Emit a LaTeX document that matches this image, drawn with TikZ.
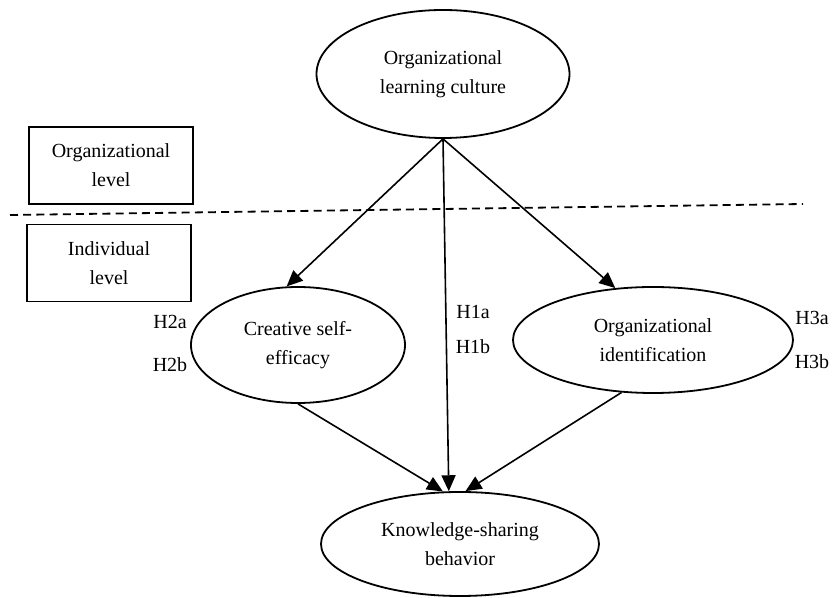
\documentclass[tikz,border=0pt]{standalone}
\usepackage{fontspec}
\setmainfont{Liberation Serif}
\usetikzlibrary{shapes.geometric,arrows.meta}
\begin{document}
\begin{tikzpicture}[x=0.5pt,y=-0.5pt,
  every node/.style={font=\fontsize{10}{14.5}\selectfont},
  oval/.style={draw,ellipse,line width=0.9pt,inner sep=0pt,align=center},
  lvlbox/.style={draw,rectangle,line width=0.9pt,inner sep=0pt,align=center,minimum width=82pt,minimum height=38.5pt},
  hyp/.style={inner sep=0pt},
  arr/.style={line width=0.8pt,-{Triangle[length=8pt,width=7pt]}}]
\useasboundingbox (0,0) rectangle (832,598);
\node[oval,minimum width=126.5pt,minimum height=64pt] (olc) at (443,74) {Organizational\\learning culture};
\node[oval,minimum width=107pt,minimum height=58pt] (cse) at (298,345) {Creative self-\\efficacy};
\node[oval,minimum width=140pt,minimum height=53pt] (oi) at (653,340) {Organizational\\identification};
\node[oval,minimum width=139pt,minimum height=52pt] (ksb) at (460,544) {Knowledge-sharing\\behavior};
\node[lvlbox] (orglev) at (111,165.5) {Organizational\\level};
\node[lvlbox] (indlev) at (109,263) {Individual\\level};
\coordinate (dl) at (10,215);
\coordinate (dr) at (803,204);
\draw[line width=0.9pt,dash pattern=on 4pt off 2.6pt] (dl) -- (dr);
\node[hyp] (h2a) at (170,322) {H2a};
\node[hyp] (h2b) at (170,365) {H2b};
\node[hyp] (h1a) at (473,312) {H1a};
\node[hyp] (h1b) at (473,347) {H1b};
\node[hyp] (h3a) at (812,318) {H3a};
\node[hyp] (h3b) at (812,362) {H3b};
\draw[arr] (olc.south) -- (cse.101);
\draw[arr] (olc.south) -- (oi.126);
\draw[arr] (olc.south) -- (ksb.102);
\draw[arr] (cse.south) -- (ksb.108);
\draw[arr] (oi.-121) -- (ksb.84);
\end{tikzpicture}
\end{document}
